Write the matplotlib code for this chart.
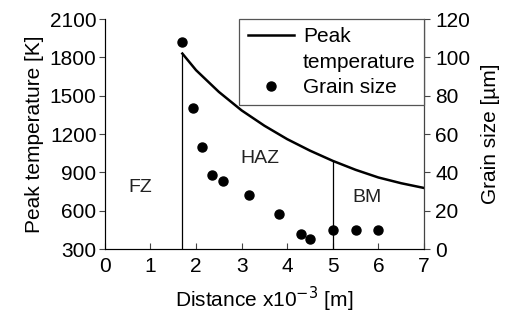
import numpy as np
import matplotlib.pyplot as plt
from matplotlib.lines import Line2D

plt.rcParams['font.family'] = ['Liberation Sans', 'DejaVu Sans']
plt.rcParams['font.size'] = 15

# peak temperature curve
dist_t = [1.7, 2.0, 2.5, 3.0, 3.5, 4.0, 4.5, 5.0, 5.5, 6.0, 6.5, 7.0]
temp = [1830, 1700, 1530, 1385, 1265, 1160, 1070, 990, 920, 860, 815, 778]

# grain size points
dist_g = [1.70, 1.94, 2.12, 2.35, 2.60, 3.16, 3.82, 4.31, 4.50, 5.0, 5.5, 6.0]
grain = [108, 73.5, 53, 38.5, 35.5, 28, 18.3, 7.7, 5.2, 10, 10, 10]

# zone boundaries and labels
bounds = [1.7, 5.0]
zones = ['FZ', 'HAZ', 'BM']
zone_x = [0.77, 3.4, 5.74]
zone_y = [780, 1010, 700]

fig = plt.figure(figsize=(5.09, 3.23), dpi=100)
ax = fig.add_axes([0.206, 0.229, 0.627, 0.712])
ax2 = ax.twinx()

l1, = ax.plot(dist_t, temp, color='black', lw=1.8)
ax.vlines(bounds, 300, np.interp(bounds, dist_t, temp), color='black', lw=0.9)
s1, = ax2.plot(dist_g, grain, 'o', color='black', ms=6.5)

for z, zx, zy in zip(zones, zone_x, zone_y):
    ax.text(zx, zy, z, ha='center', va='center', color='#222222', fontsize=14)

ax.set_xlim(0, 7)
ax.set_ylim(300, 2100)
ax2.set_ylim(0, 120)
ax.set_xticks(range(0, 8))
ax.set_yticks(range(300, 2101, 300))
ax2.set_yticks(range(0, 121, 20))

ax.spines['top'].set_visible(False)
ax2.spines['top'].set_visible(False)
for sp in ['left', 'bottom']:
    ax.spines[sp].set_color('#444444')
ax2.spines['right'].set_color('#444444')
ax.tick_params(axis='x', direction='in', length=4, color='#444444', pad=6)
ax.tick_params(axis='y', direction='out', length=4, color='#444444', pad=2)
ax2.tick_params(axis='y', direction='out', length=4, color='#444444', pad=4)

ax.set_xlabel('Distance x10$^{-3}$ [m]', labelpad=6)
ax.set_ylabel('Peak temperature [K]', labelpad=4)
ax2.set_ylabel('Grain size [µm]', labelpad=8)

blank = Line2D([], [], color='none')
leg = ax2.legend([l1, blank, s1], ['Peak', 'temperature', 'Grain size'], loc='upper right',
                 bbox_to_anchor=(1, 1), borderaxespad=0, fancybox=False,
                 handlelength=2.2, handletextpad=0.45, labelspacing=0.3,
                 borderpad=0.4, framealpha=1)
leg.get_frame().set_edgecolor('#555555')
leg.get_frame().set_linewidth(0.9)

fig.savefig('out.png', dpi=100)
